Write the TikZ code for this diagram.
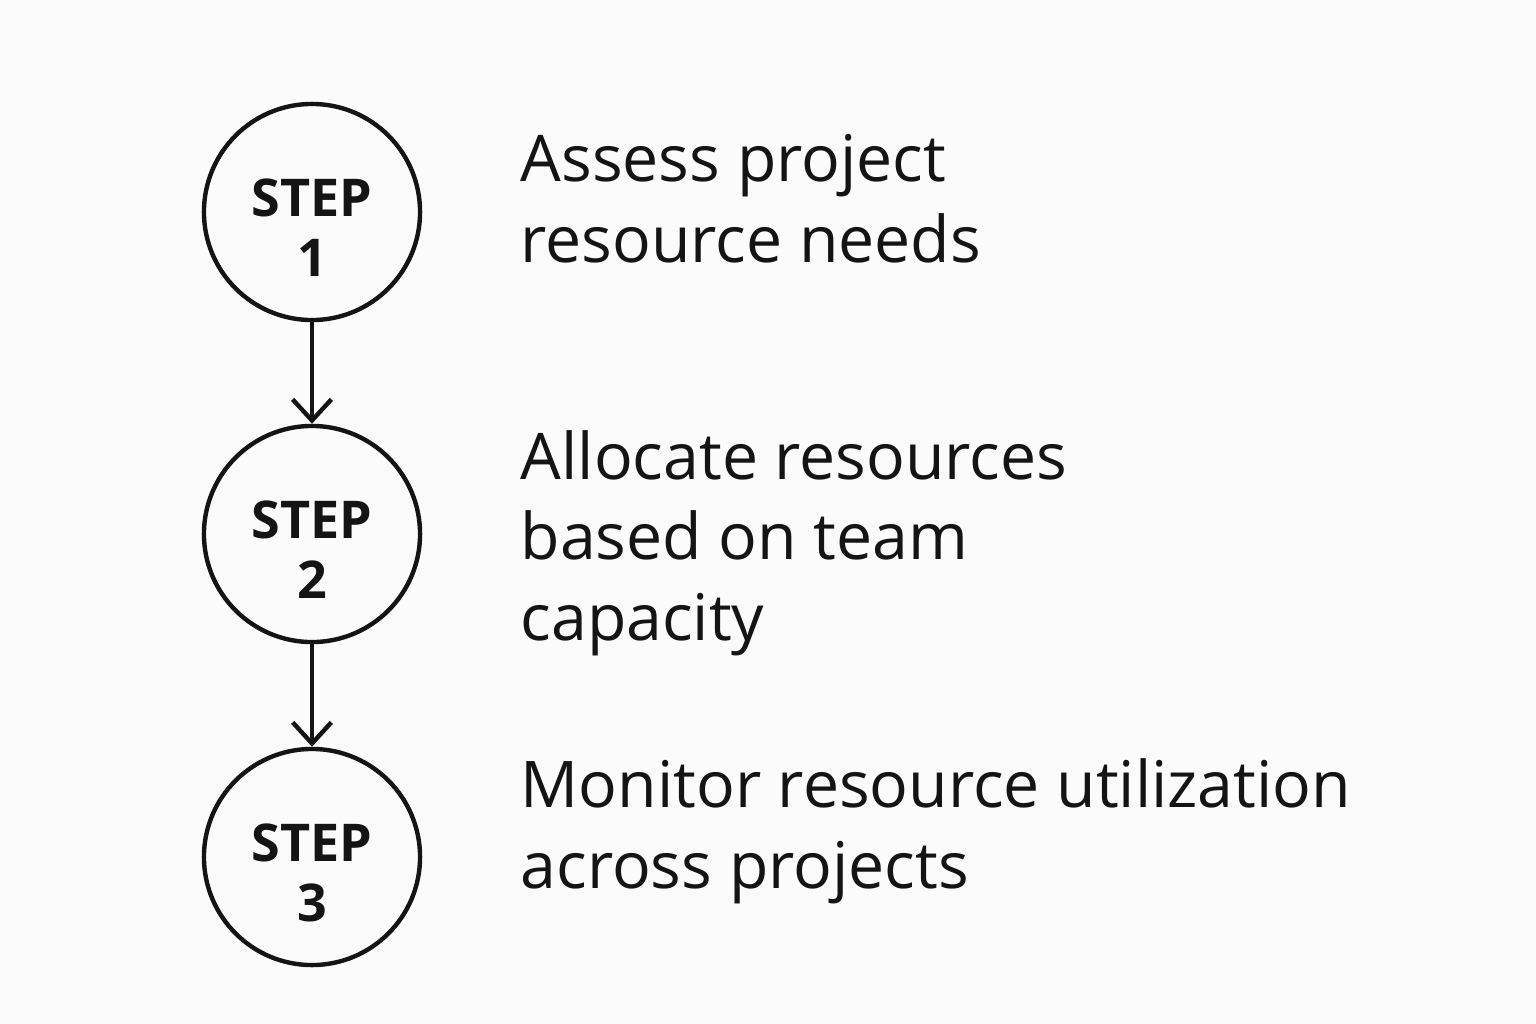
\documentclass[tikz,border=0pt]{standalone}
\usepackage{fontspec}
\setmainfont{Open Sans}
\usetikzlibrary{arrows.meta}
\definecolor{paper}{RGB}{251,251,251}
\definecolor{ink}{RGB}{20,20,20}
\tikzset{
  stepcircle/.style={draw=ink, circle, line width=1.25pt, minimum size=2.16cm, inner sep=0pt},
  steplabel/.style={text=ink, align=center, inner sep=0pt, yshift=-0.16cm, font=\fontsize{14.8}{17}\selectfont\bfseries},
  steptext/.style={anchor=base west, inner sep=0pt, align=left, text=ink, font=\fontsize{18.3}{22.76}\selectfont},
  flow/.style={draw=ink, line width=1.25pt, -{Straight Barb[length=6pt,width=11pt,line width=1.25pt]}}
}
\begin{document}
\begin{tikzpicture}[x=0.01cm,y=-0.01cm]
				\useasboundingbox[fill=paper] (0,0) rectangle (1536,1024);
				
				\node[stepcircle, label={[steplabel]center:STEP\\1}] (StepA) at (312,212) {};
				\node[stepcircle, label={[steplabel]center:STEP\\2}] (StepB) at (312,534) {};
				\node[stepcircle, label={[steplabel]center:STEP\\3}] (StepC) at (312,857) {};
				
				\draw[flow] (StepA) -- (StepB);
				\draw[flow] (StepB) -- (StepC);
				
				\node[steptext] (lblAssess) at (520,262) {Assess project\\resource needs};
				\node[steptext] (lblAllocate) at (520,640) {Allocate resources\\based on team\\capacity};
				\node[steptext] (lblMonitor) at (520,888) {Monitor resource utilization\\across projects};
				
\end{tikzpicture}
\end{document}
